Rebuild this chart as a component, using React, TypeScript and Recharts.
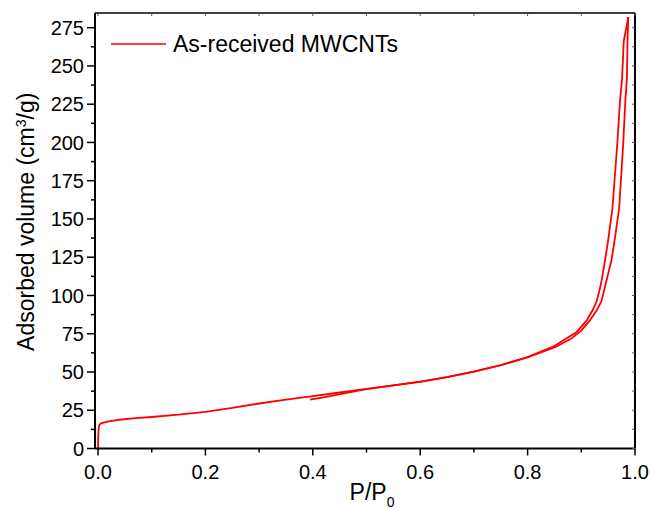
import React from 'react';
import { LineChart, Line, XAxis, YAxis, Legend } from 'recharts';

// ---- data ----
const seriesName = 'As-received MWCNTs';

const adsorptionP = [0, 0.0003, 0.0008, 0.0015, 0.003, 0.006, 0.01, 0.02, 0.04, 0.07, 0.1, 0.15, 0.2, 0.25, 0.3, 0.35, 0.4, 0.45, 0.5, 0.55, 0.6, 0.65, 0.7, 0.75, 0.8, 0.85, 0.88, 0.9, 0.916, 0.93, 0.938, 0.947, 0.956, 0.962, 0.9705, 0.978, 0.982, 0.985, 0.986, 0.9875];
const adsorptionV = [0, 6, 11, 14, 15.6, 16.4, 16.9, 17.8, 18.8, 19.8, 20.6, 22.1, 24, 26.5, 29.4, 31.9, 34.2, 36.6, 39, 41.3, 43.7, 46.7, 50.3, 54.5, 59.6, 66, 71.5, 77, 83.7, 91, 96.7, 110, 122.7, 136, 157, 199, 227, 242, 266, 282];

const desorptionP = [0.395, 0.42, 0.463, 0.5, 0.55, 0.6, 0.65, 0.7, 0.75, 0.8, 0.85, 0.875, 0.891, 0.91, 0.922, 0.929, 0.935, 0.938, 0.944, 0.95, 0.958, 0.967, 0.972, 0.976, 0.979, 0.9875];
const desorptionV = [32, 33.4, 36.3, 38.8, 41.2, 43.6, 46.6, 50.2, 54.4, 59.8, 67, 72.5, 76, 83.7, 91, 96.7, 105, 110, 122.7, 136, 157, 199, 227, 242, 266, 282];

const xTicks = [0, 0.1, 0.2, 0.3, 0.4, 0.5, 0.6, 0.7, 0.8, 0.9, 1.0];
const yTicks = [0, 12.5, 25, 37.5, 50, 62.5, 75, 87.5, 100, 112.5, 125, 137.5, 150, 162.5, 175, 187.5, 200, 212.5, 225, 237.5, 250, 262.5, 275];
const xDomain = [-0.0056, 1];
const yDomain = [0, 284.6];

const adsorption = adsorptionP.map((p, i) => ({ p, v: adsorptionV[i] }));
const desorption = desorptionP.map((p, i) => ({ p, v: desorptionV[i] }));

const FONT = '"Liberation Sans", Arial, sans-serif';
const RED = '#ff0000';

const BottomTick = (props: any) => {
  const { x, y, payload } = props;
  const v = payload.value;
  const major = Math.round(v * 10) % 2 === 0;
  return (
    <g>
      <line x1={x} x2={x} y1={y} y2={y + (major ? 7 : 4)} stroke="#000" strokeWidth={1.5} />
      {major && (
        <text x={x} y={y + 30} textAnchor="middle" fontSize={20} fontFamily={FONT} fill="#000">
          {v.toFixed(1)}
        </text>
      )}
    </g>
  );
};

const LeftTick = (props: any) => {
  const { x, y, payload } = props;
  const v = payload.value;
  const major = v % 25 === 0;
  return (
    <g>
      <line x1={x - (major ? 8 : 4)} x2={x} y1={y} y2={y} stroke="#000" strokeWidth={1.5} />
      {major && (
        <text x={x - 11} y={y} dy="0.36em" textAnchor="end" fontSize={20} fontFamily={FONT} fill="#000">
          {v}
        </text>
      )}
    </g>
  );
};

const TopTick = (props: any) => {
  const { x, y } = props;
  return <line x1={x} x2={x} y1={y} y2={y + 3} stroke="#555" strokeWidth={1} />;
};

const RightTick = (props: any) => {
  const { x, y } = props;
  return <line x1={x - 3} x2={x} y1={y} y2={y} stroke="#555" strokeWidth={1} />;
};

const YTitle = (props: any) => {
  const vb = props.viewBox || { x: 0, y: 0, width: 0, height: 0 };
  const cx = vb.x + 34;
  const cy = vb.y + vb.height / 2 - 9;
  return (
    <text transform={`rotate(-90, ${cx}, ${cy})`} x={cx} y={cy} textAnchor="middle" fontSize={23} fontFamily={FONT} fill="#000">
      Adsorbed volume (cm<tspan dy={-8} fontSize={14}>3</tspan>
      <tspan dy={8}>/g)</tspan>
    </text>
  );
};

const XTitle = (props: any) => {
  const vb = props.viewBox || { x: 0, y: 0, width: 0, height: 0 };
  const cx = vb.x + vb.width / 2 + 7;
  const cy = vb.y + 51.5;
  return (
    <text x={cx} y={cy} textAnchor="middle" fontSize={23} fontFamily={FONT} fill="#000">
      P/P<tspan dy={7} fontSize={14}>0</tspan>
    </text>
  );
};

const renderLegend = (props: any) => {
  const items = (props.payload || []).filter((it: any) => it.type !== 'none');
  return (
    <div style={{ display: 'flex', flexDirection: 'column' }}>
      {items.map((it: any, i: number) => (
        <div key={i} style={{ display: 'flex', alignItems: 'center', fontFamily: FONT, fontSize: 23, lineHeight: '26px', color: '#000' }}>
          <svg width={55} height={4} style={{ display: 'block' }}>
            <line x1={0} x2={55} y1={2} y2={2} stroke={it.color} strokeWidth={1.5} />
          </svg>
          <span style={{ marginLeft: 7 }}>{it.value}</span>
        </div>
      ))}
    </div>
  );
};

export default function App() {
  return (
    <div style={{ position: 'absolute', left: 0, top: 0, width: 651, height: 508, background: '#fff' }}>
      <LineChart width={651} height={508} margin={{ top: 0, right: 0, bottom: 0, left: 0 }}>
        <XAxis
          xAxisId={0}
          dataKey="p"
          type="number"
          domain={xDomain}
          ticks={xTicks}
          interval={0}
          allowDataOverflow
          height={59.5}
          tickSize={0}
          tickMargin={0}
          tickLine={false}
          tick={<BottomTick />}
          axisLine={{ stroke: '#000', strokeWidth: 2 }}
          label={<XTitle />}
        />
        <XAxis
          xAxisId="top"
          orientation="top"
          dataKey="p"
          type="number"
          domain={xDomain}
          ticks={xTicks}
          interval={0}
          allowDataOverflow
          height={13}
          tickSize={0}
          tickMargin={0}
          tickLine={false}
          tick={<TopTick />}
          axisLine={{ stroke: '#000', strokeWidth: 1.5 }}
        />
        <YAxis
          yAxisId={0}
          dataKey="v"
          type="number"
          domain={yDomain}
          ticks={yTicks}
          interval={0}
          allowDataOverflow
          width={95}
          tickSize={0}
          tickMargin={0}
          tickLine={false}
          tick={<LeftTick />}
          axisLine={{ stroke: '#000', strokeWidth: 2 }}
          label={<YTitle />}
        />
        <YAxis
          yAxisId="right"
          orientation="right"
          dataKey="v"
          type="number"
          domain={yDomain}
          ticks={yTicks}
          interval={0}
          allowDataOverflow
          width={16}
          tickSize={0}
          tickMargin={0}
          tickLine={false}
          tick={<RightTick />}
          axisLine={{ stroke: '#000', strokeWidth: 2 }}
        />
        <Legend
          layout="horizontal"
          verticalAlign="middle"
          align="center"
          content={renderLegend}
          wrapperStyle={{ left: 111, top: 31, width: 320, height: 30 }}
        />
        <Line
          data={adsorption}
          dataKey="v"
          name={seriesName}
          type="linear"
          stroke={RED}
          strokeWidth={1.8}
          dot={false}
          activeDot={false}
          isAnimationActive={false}
        />
        <Line
          data={desorption}
          dataKey="v"
          name={seriesName + ' (desorption)'}
          legendType="none"
          type="linear"
          stroke={RED}
          strokeWidth={1.8}
          dot={false}
          activeDot={false}
          isAnimationActive={false}
        />
      </LineChart>
    </div>
  );
}
